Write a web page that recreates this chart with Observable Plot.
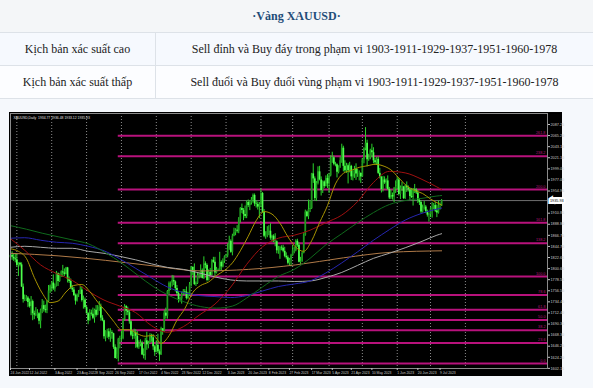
<!DOCTYPE html>
<html><head><meta charset="utf-8">
<script src="https://cdn.jsdelivr.net/npm/d3@7"></script>
<script src="https://cdn.jsdelivr.net/npm/@observablehq/plot@0.6"></script>
<style>
html,body{margin:0;padding:0;}
body{width:593px;height:388px;background:#f5f8fc;font-family:"Liberation Serif","Times New Roman",serif;position:relative;overflow:hidden;color:#222;}
.hdr{position:absolute;left:0;top:0;width:593px;height:32px;background:#f4f6f8;border-bottom:1px solid #dde2e8;text-align:center;line-height:32px;color:#1f4d78;font-weight:bold;font-size:12px;}
.row{position:absolute;left:0;width:593px;height:32px;border-bottom:1px solid #dde2e8;font-size:12px;}
.c1{position:absolute;left:0;width:155px;top:0;height:32px;line-height:32px;text-align:center;border-right:1px solid #dde2e8;}
.c2{position:absolute;left:156px;right:0;top:0;height:32px;line-height:32px;text-align:center;}
#chart{position:absolute;left:9px;top:112px;}
</style></head>
<body>
<div class="hdr">·Vàng XAUUSD·</div>
<div class="row" style="top:33px;background:#f6f9fe"><div class="c1">Kịch bản xác suất cao</div><div class="c2">Sell đỉnh và Buy đáy trong phạm vi 1903-1911-1929-1937-1951-1960-1978</div></div>
<div class="row" style="top:66px;background:#fcfdff"><div class="c1">Kịch bản xác suất thấp</div><div class="c2">Sell đuổi và Buy đuổi vùng phạm vi 1903-1911-1929-1937-1951-1960-1978</div></div>
<div id="chart"></div>
<script>
// ---- data (daily bars from 24 Jun 2022, one per trading day) ----
const startDate = "2022-06-24";
const firstOpen = 1822;
const closes = [
1827,1823,1820,1818,1807,1811,1808,1764,1739,1740,
1742,1733,1725,1735,1711,1708,1709,1711,1696,1718,
1727,1719,1717,1735,1756,1766,1772,1760,1765,1791,
1775,1789,1794,1792,1789,1802,1779,1775,1761,1758,
1747,1736,1748,1751,1758,1737,1738,1723,1711,1697,
1712,1710,1702,1718,1708,1716,1724,1702,1697,1665,
1675,1675,1664,1673,1671,1644,1622,1629,1660,1661,
1661,1699,1725,1716,1713,1695,1668,1666,1673,1666,
1644,1650,1652,1629,1627,1657,1649,1652,1665,1663,
1645,1634,1648,1635,1629,1681,1676,1712,1706,1755,
1771,1772,1777,1774,1761,1751,1738,1740,1750,1755,
1754,1741,1749,1768,1803,1797,1769,1771,1787,1789,
1797,1781,1810,1807,1777,1793,1787,1817,1813,1792,
1798,1798,1813,1804,1815,1824,1826,1839,1855,1833,
1865,1872,1877,1875,1898,1920,1916,1908,1904,1932,
1926,1931,1937,1946,1929,1928,1923,1928,1950,1912,
1865,1867,1874,1875,1861,1865,1854,1854,1836,1836,
1842,1841,1835,1825,1822,1811,1817,1826,1836,1836,
1855,1847,1813,1815,1831,1867,1913,1904,1918,1920,
1989,1979,1940,1970,1993,1977,1956,1973,1964,1980,
1969,1985,2020,2021,2008,2007,1992,2003,2015,2040,
2004,1995,2005,1995,2004,1983,1989,1998,1989,1989,
1990,1983,2017,2039,2050,2017,2021,2035,2031,2015,
2011,2018,1990,1982,1958,1977,1971,1975,1958,1941,
1946,1943,1959,1963,1977,1948,1961,1963,1940,1965,
1961,1957,1944,1942,1958,1957,1951,1936,1932,1913,
1921,1923,1914,1907,1908,1919,1921,1926,1915,1911,
1925,1925,1936];
const lows = [
1816,1817,1815,1812,1804,1785,1804,1763,1732,1735,
1735,1723,1722,1707,1697,1699,1705,1701,1689,1681,
1711,1714,1712,1711,1733,1751,1754,1757,1754,1764,
1765,1773,1783,1783,1785,1788,1772,1771,1759,1753,
1745,1728,1734,1743,1749,1734,1720,1720,1710,1689,
1696,1706,1699,1692,1704,1707,1716,1696,1695,1660,
1655,1662,1659,1654,1660,1640,1621,1620,1615,1641,
1655,1659,1696,1707,1707,1690,1665,1659,1660,1642,
1641,1640,1645,1628,1621,1618,1638,1641,1651,1654,
1638,1626,1633,1632,1616,1628,1668,1674,1700,1700,
1748,1757,1764,1767,1754,1746,1732,1734,1730,1747,
1748,1738,1739,1745,1764,1787,1767,1765,1769,1780,
1782,1780,1779,1800,1774,1776,1786,1786,1811,1785,
1790,1795,1796,1796,1802,1811,1823,1822,1837,1831,
1826,1864,1866,1871,1870,1891,1910,1896,1900,1900,
1922,1916,1927,1931,1924,1921,1917,1900,1922,1911,
1862,1859,1862,1866,1857,1853,1852,1844,1830,1829,
1819,1836,1832,1822,1818,1808,1805,1804,1825,1830,
1834,1843,1812,1809,1813,1830,1865,1902,1898,1912,
1918,1970,1935,1934,1967,1975,1945,1950,1960,1963,
1960,1950,1983,2010,2005,2003,1981,1989,2000,2010,
1993,1991,1990,1969,1991,1976,1975,1980,1976,1982,
1975,1970,1982,2009,2035,2003,2014,2017,2021,2009,
2007,2006,1988,1979,1951,1953,1968,1959,1956,1938,
1938,1937,1932,1950,1957,1945,1938,1954,1938,1938,
1952,1953,1936,1940,1925,1950,1948,1930,1926,1910,
1911,1917,1910,1903,1893,1902,1901,1918,1912,1902,
1909,1917,1924];
const highs = [
1830,1834,1830,1830,1829,1812,1813,1812,1770,1748,
1747,1745,1740,1745,1738,1716,1723,1719,1713,1720,
1739,1736,1728,1737,1767,1768,1775,1788,1770,1795,
1792,1790,1796,1807,1800,1803,1803,1784,1780,1767,
1763,1750,1750,1757,1765,1765,1746,1742,1726,1713,
1719,1718,1722,1720,1727,1727,1735,1730,1707,1698,
1677,1680,1681,1681,1677,1672,1649,1643,1662,1666,
1676,1701,1729,1727,1724,1719,1697,1677,1680,1679,
1675,1657,1659,1656,1641,1662,1674,1656,1671,1670,
1669,1648,1657,1670,1639,1684,1681,1717,1722,1757,
1774,1774,1787,1786,1776,1767,1755,1744,1754,1759,
1759,1764,1753,1773,1805,1804,1810,1774,1791,1792,
1808,1800,1824,1814,1810,1798,1801,1818,1823,1823,
1803,1800,1833,1816,1820,1826,1829,1850,1865,1858,
1869,1881,1880,1886,1902,1922,1929,1920,1925,1935,
1937,1935,1942,1949,1949,1935,1933,1932,1959,1952,
1918,1874,1884,1886,1890,1867,1868,1870,1856,1845,
1845,1846,1847,1843,1832,1826,1821,1829,1846,1843,
1858,1859,1852,1823,1834,1870,1917,1915,1937,1935,
1990,2009,1983,1974,2003,2004,1983,1975,1975,1985,
1988,1990,2025,2032,2024,2012,2009,2005,2022,2048,
2044,2015,2010,2009,2012,2006,1995,2004,2009,1998,
1995,1991,2019,2041,2081,2056,2028,2038,2048,2041,
2020,2022,2023,2000,1984,1984,1983,1979,1985,1962,
1957,1951,1962,1975,1983,1980,1965,1972,1964,1967,
1973,1965,1961,1960,1960,1968,1960,1956,1940,1935,
1927,1934,1926,1917,1911,1922,1932,1930,1932,1927,
1935,1931,1938];

// moving averages read as [bar, price]
const ma20 = [[0,1840],[5,1835],[10,1821],[15,1783],[20,1752],[25,1733],[30,1736],[35,1754],[40,1767],[45,1769],[50,1755],[55,1734],[60,1716],[65,1696],[70,1679],[75,1679],[80,1671],[85,1666],[90,1668],[95,1652],[100,1667],[105,1698],[110,1721],[115,1753],[120,1767],[125,1774],[130,1787],[135,1797],[140,1812],[145,1836],[150,1865],[155,1896],[160,1914],[165,1909],[170,1891],[175,1864],[180,1843],[185,1835],[190,1856],[195,1892],[200,1926],[205,1969],[210,1990],[215,1996],[220,2002],[225,2005],[230,2008],[235,2005],[240,1997],[245,1981],[250,1965],[255,1956],[260,1950],[265,1939],[272,1927]];
const ma50 = [[0,1860],[9,1837],[19,1808],[29,1791],[39,1777],[49,1756],[59,1738],[69,1726],[79,1713],[89,1687],[99,1674],[109,1685],[119,1708],[129,1730],[139,1764],[149,1809],[159,1844],[169,1861],[179,1867],[189,1877],[199,1892],[209,1907],[219,1934],[229,1972],[239,1994],[249,1991],[259,1979],[269,1963],[272,1958]];
const ma100 = [[0,1886],[10,1879],[20,1871],[30,1864],[40,1857],[49,1850],[60,1832],[70,1812],[80,1788],[90,1765],[100,1747],[110,1734],[120,1725],[130,1722],[140,1726],[149,1742],[159,1764],[169,1785],[179,1799],[189,1821],[199,1848],[209,1870],[219,1892],[229,1912],[239,1928],[249,1936],[259,1940],[269,1945],[272,1946]];
const ma150 = [[0,1861],[9,1862],[19,1857],[29,1853],[39,1851],[49,1845],[59,1836],[69,1820],[79,1801],[89,1782],[99,1764],[109,1753],[119,1747],[129,1745],[139,1743],[149,1747],[159,1756],[169,1765],[179,1770],[189,1776],[199,1792],[209,1812],[219,1834],[229,1857],[239,1878],[249,1897],[259,1910],[269,1919],[272,1921]];
const ma200 = [[0,1843],[9,1845],[19,1843],[29,1841],[39,1841],[49,1835],[59,1831],[69,1825],[79,1818],[89,1810],[99,1803],[109,1799],[119,1792],[129,1784],[139,1778],[149,1776],[159,1776],[169,1776],[179,1775],[189,1776],[199,1783],[209,1793],[219,1807],[229,1821],[239,1831],[249,1842],[259,1854],[269,1867],[272,1870]];
const maLong = [[0,1831],[30,1826],[60,1817],[90,1806],[120,1796],[150,1799],[180,1808],[210,1822],[240,1833],[272,1836]];

// Fibonacci levels (anchored at the 26-28 Sep 2022 low)
const fibLabels = ["0.0","23.6","38.2","50.0","61.8","78.6","100.0","138.2","161.8","200.0","238.2","261.8"];
const fibPrices = [1612,1652.8,1678.1,1698.5,1718.9,1748.0,1785,1851.1,1891.9,1958,2024.1,2064.9];
const fibStartDate = "2022-09-28";

// axes
const priceTicks = [2087.25,2065.20,2043.15,2021.10,1999.05,1977.00,1954.95,1910.85,1888.80,1866.75,1844.70,1822.65,1800.60,1778.55,1756.50,1734.45,1712.40,1690.35,1668.30,1646.25,1624.20,1602.15];
const dateTicks = ["2022-06-24","2022-07-12","2022-08-03","2022-08-23","2022-09-08","2022-09-26","2022-10-17","2022-11-04","2022-11-23","2022-12-12","2023-01-03","2023-01-20","2023-02-08","2023-02-27","2023-03-17","2023-04-05","2023-04-21","2023-05-10","2023-06-01","2023-06-20","2023-07-09"];
const gridDates = ["2022-06-30","2022-08-01","2022-08-31","2022-09-30","2022-11-01","2022-12-01","2023-01-02","2023-02-01","2023-03-01","2023-04-03","2023-05-02","2023-06-01","2023-06-30","2023-08-01"];
const lastPrice = 1935.93;
const headerText = "XAUUSD,Daily  1934.77 1936.48 1933.12 1935.93";
const yDomain = [1601.9, 2109.1];
const visibleBars = 338.8;

// ---- helpers ----
const t0 = new Date(startDate + "T00:00:00Z");
function barOf(iso) {
  const t = new Date(iso + "T00:00:00Z");
  let n = 0;
  for (let d = new Date(t0); d < t; d.setUTCDate(d.getUTCDate() + 1)) {
    const w = d.getUTCDay();
    if (w !== 0 && w !== 6) n++;
  }
  return n;
}
const fmt = d3.utcFormat("%-d %b %Y");
const tickBars = dateTicks.map(barOf);
const tickLabel = new Map(dateTicks.map((s, i) => [tickBars[i], fmt(new Date(s + "T00:00:00Z"))]));
const gridBars = gridDates.map(barOf);
const fibStart = barOf(fibStartDate);

const bars = closes.map((c, i) => ({i, o: i === 0 ? firstOpen : closes[i - 1], c, h: highs[i], l: lows[i]}));
const up = bars.filter(d => d.c >= d.o);
const down = bars.filter(d => d.c < d.o);
const fibs = fibPrices.map((p, i) => ({p, label: fibLabels[i]}));

const magenta = "#b8127c";
const lineOpt = (stroke) => ({x: d => d[0], y: d => d[1], stroke, strokeWidth: 1, curve: "monotone-x"});

const chart = Plot.plot({
  width: 553, height: 264,
  marginLeft: 1, marginRight: 15, marginTop: 1, marginBottom: 8,
  style: {background: "#000", color: "#c8c8c8", fontFamily: "Liberation Sans, Arial, sans-serif", overflow: "visible"},
  x: {domain: [0, visibleBars]},
  y: {domain: yDomain},
  marks: [
    Plot.ruleX(gridBars, {stroke: "#8c8c8c", strokeDasharray: "1,2", strokeWidth: 1}),
    Plot.ruleY(fibs, {y: "p", x1: () => fibStart, x2: () => visibleBars, stroke: magenta, strokeWidth: 2}),
    Plot.ruleY([lastPrice], {stroke: "#6e6e6e", strokeWidth: 1}),
    Plot.ruleX(bars, {x: "i", y1: "l", y2: "h", stroke: "#2bd42b", strokeWidth: 1}),
    Plot.ruleX(up, {x: "i", y1: "o", y2: "c", stroke: "#1f9a1f", strokeWidth: 1.7}),
    Plot.ruleX(down, {x: "i", y1: "o", y2: "c", stroke: "#4dff4d", strokeWidth: 1.7}),
    Plot.line(maLong, lineOpt("#b07a48")),
    Plot.line(ma200, lineOpt("#a8a8a8")),
    Plot.line(ma150, lineOpt("#2626b0")),
    Plot.line(ma100, lineOpt("#0f6a1c")),
    Plot.line(ma50, lineOpt("#a01010")),
    Plot.line(ma20, lineOpt("#a89400")),
    Plot.text(fibs, {x: () => visibleBars, y: "p", text: "label", textAnchor: "end", dx: -2, dy: -3, fontSize: 3.8, fill: magenta}),
    Plot.frame({stroke: "#8a8a8a"}),
    Plot.axisY({anchor: "right", ticks: priceTicks, tickFormat: d => d.toFixed(2), tickSize: 2, tickPadding: 1, fontSize: 3.8, label: null}),
    Plot.axisX({anchor: "bottom", ticks: tickBars, tickFormat: b => tickLabel.get(b), tickSize: 2, tickPadding: 1, fontSize: 3.4, textAnchor: "start", label: null}),
    Plot.text([lastPrice], {x: () => visibleBars, y: d => d, text: d => d.toFixed(2), textAnchor: "start", dx: 2.5, fontSize: 3.8, fill: "#000", stroke: "#fff", strokeWidth: 4, strokeLinejoin: "miter"}),
    Plot.text([headerText], {frameAnchor: "top-left", dx: 3, dy: 3, fontSize: 3.4, fill: "#e0e0e0"})
  ]
});
document.getElementById("chart").appendChild(chart);
</script>
</body></html>
